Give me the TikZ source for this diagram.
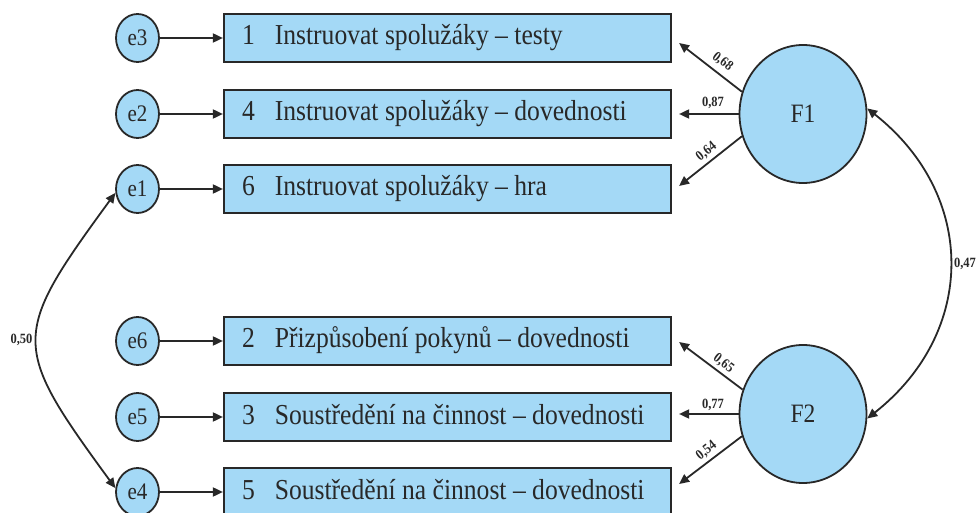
\documentclass[tikz,border=0pt]{standalone}
\usepackage{fontspec}
\usepackage{graphicx}
\setmainfont{Liberation Serif}
\usetikzlibrary{shapes.geometric,arrows.meta}
\definecolor{fillblue}{RGB}{164,217,246}
\definecolor{ink}{RGB}{40,40,40}
% slightly tall lettering
\newcommand\vstretch[1]{\scalebox{1}[1.13]{#1}}
% indicator text: number, gap, wording; baseline 7pt below the middle
\newcommand\itemtext[2]{\rule[-17pt]{0pt}{48pt}\makebox[447pt][l]{\hspace{18pt}\vstretch{#1\hspace{20pt}#2}}}
\tikzset{
  item/.style={draw=ink, line width=2.2pt, fill=fillblue, inner sep=0pt,
    minimum width=447pt, minimum height=48pt,
    font=\fontsize{25.6}{30}\selectfont, text=ink},
  err/.style={ellipse, draw=ink, line width=1.8pt, fill=fillblue, inner sep=0pt,
    minimum width=43pt, minimum height=48pt,
    font=\fontsize{21}{24}\selectfont, text=ink},
  factor/.style={ellipse, draw=ink, line width=1.8pt, fill=fillblue, inner sep=0pt,
    minimum width=127pt, minimum height=138pt,
    font=\fontsize{23.5}{26}\selectfont, text=ink},
  conn/.style={draw=ink, line width=1.8pt, -{Triangle[length=10pt,width=9pt]}},
  cov/.style={draw=ink, line width=1.8pt,
    {Triangle[length=10pt,width=9pt]}-{Triangle[length=10pt,width=9pt]}},
  lbl/.style={font=\bfseries\fontsize{12.5}{12.5}\selectfont, text=ink, inner sep=0pt},
}
\begin{document}
\begin{tikzpicture}[x=1pt, y=-1pt]
\useasboundingbox (0,0) rectangle (978,513);

% observed indicators
\node[item] (b1) at (447.5,38)  {\itemtext{1}{Instruovat spolužáky – testy}};
\node[item] (b4) at (447.5,114) {\itemtext{4}{Instruovat spolužáky – dovednosti}};
\node[item] (b6) at (447.5,189) {\itemtext{6}{Instruovat spolužáky – hra}};
\node[item] (b2) at (447.5,341) {\itemtext{2}{Přizpůsobení pokynů – dovednosti}};
\node[item] (b3) at (447.5,417) {\itemtext{3}{Soustředění na činnost – dovednosti}};
\node[item] (b5) at (447.5,492) {\itemtext{5}{Soustředění na činnost – dovednosti}};

% error terms
\node[err] (e3) at (137.5,38)  {\vstretch{e3}};
\node[err] (e2) at (137.5,114) {\vstretch{e2}};
\node[err] (e1) at (137.5,189) {\vstretch{e1}};
\node[err] (e6) at (137.5,341) {\vstretch{e6}};
\node[err] (e5) at (137.5,417) {\vstretch{e5}};
\node[err] (e4) at (137.5,492) {\vstretch{e4}};

% latent factors
\node[factor] (F1) at (803,114) {\vstretch{F1}};
\node[factor] (F2) at (803,414) {\vstretch{F2}};

% error paths
\draw[conn] (e3) -- (b1);
\draw[conn] (e2) -- (b4);
\draw[conn] (e1) -- (b6);
\draw[conn] (e6) -- (b2);
\draw[conn] (e5) -- (b3);
\draw[conn] (e4) -- (b5);

% loadings
\draw[conn] (F1.160) -- ([shift={(7,5)}]b1.east);
\draw[conn] (F1.180) -- ([shift={(7,0)}]b4.east);
\draw[conn] (F1.200) -- ([shift={(7,-3)}]b6.east);
\draw[conn] (F2.158) -- ([shift={(7,1)}]b2.east);
\draw[conn] (F2.180) -- ([shift={(7,-3)}]b3.east);
\draw[conn] (F2.200) -- ([shift={(7,-8)}]b5.east);

\node[lbl, rotate=-37.7] (l1) at (722.5,62)   {\vstretch{0,68}};
\node[lbl]               (l4) at (713,103)    {\vstretch{0,87}};
\node[lbl, rotate=38.3]  (l6) at (706.5,151.5) {\vstretch{0,64}};
\node[lbl, rotate=-37.2] (l2) at (723.5,363.5) {\vstretch{0,65}};
\node[lbl]               (l3) at (713,405)    {\vstretch{0,77}};
\node[lbl, rotate=38]    (l5) at (706.5,450.5) {\vstretch{0,54}};

% covariances
\draw[cov] (F1.5) .. controls (977,195) and (977,332) .. (F2.-4);
\draw[cov] (e1.190) .. controls (10.7,336) and (10.7,345) .. (e4.170);
\node[lbl] (c12) at (965,264) {\vstretch{0,47}};
\node[lbl] (c14) at (21.5,340) {\vstretch{0,50}};
\end{tikzpicture}
\end{document}
